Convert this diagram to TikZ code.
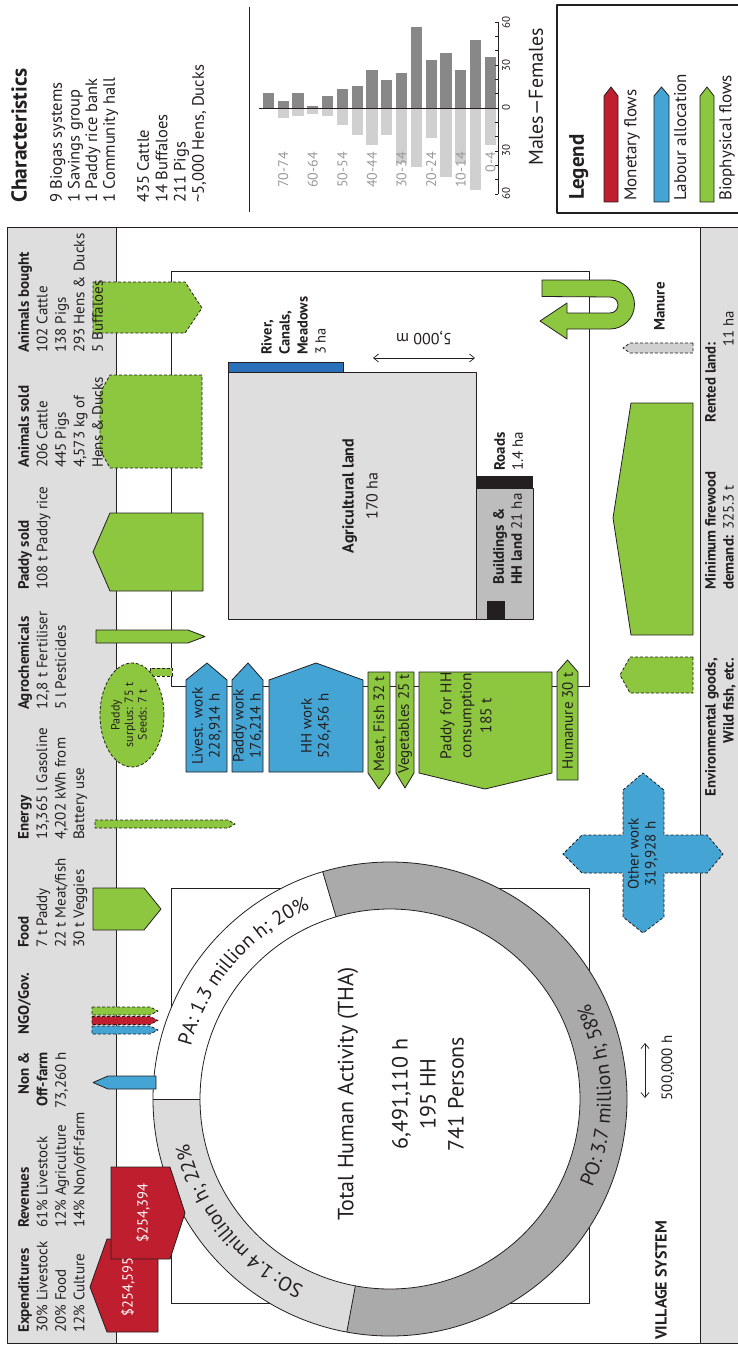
\documentclass[tikz,border=0pt]{standalone}
\usepackage{fontspec}
\setmainfont{PT Sans}
\usetikzlibrary{arrows.meta,decorations.text}
\definecolor{mred}{HTML}{BE1E2D}
\definecolor{mblue}{HTML}{44A5D5}
\definecolor{mgreen}{HTML}{8DC63F}
\definecolor{bandgray}{HTML}{DEDEDE}
\definecolor{rivblue}{HTML}{2B71B9}
\definecolor{agrigray}{HTML}{DEDEDE}
\definecolor{bldgray}{HTML}{BDBDBD}
\definecolor{sogray}{HTML}{DCDCDC}
\definecolor{pogray}{HTML}{AAAAAA}
\definecolor{malegray}{HTML}{888888}
\definecolor{femgray}{HTML}{D0D0D0}
\definecolor{linec}{HTML}{231F20}
\definecolor{labgray}{HTML}{999999}
\newcommand\fA{\fontsize{15}{18.5}\selectfont}
\newcommand\fB{\fontsize{15}{17}\selectfont}
\begin{document}
\begin{tikzpicture}[x=1pt,y=1pt,line join=round,
  bord/.style={draw=linec,line width=0.8pt},
  dsh/.style={draw=linec,line width=0.8pt,dash pattern=on 3pt off 2pt},
  rt/.style={rotate=90,inner sep=0pt,align=left,font=\fA,text=linec},
  ct/.style={rotate=90,inner sep=0pt,align=center,font=\fB,text=linec},
  dimarr/.style={linec,line width=0.7pt,{Straight Barb[length=5pt,width=8pt]}-{Straight Barb[length=5pt,width=8pt]}},
]
\useasboundingbox (0,0) rectangle (737,-1348);
\fill[white] (0,0) rectangle (737,-1348);

% ---------- top region ----------
\draw[linec,line width=1pt] (7,-228) -- (745,-228);
\draw[linec,line width=1pt] (249,-7) -- (249,-212);
\node[rt,anchor=north west,font=\fontsize{21.5}{22}\selectfont\bfseries] (charT) at (11,-203) {Characteristics};
\node[rt,anchor=north west,font=\fontsize{16.5}{17.6}\selectfont] (charA) at (50,-203) {9 Biogas systems\\1 Savings group\\1 Paddy rice bank\\1 Community hall};
\node[rt,anchor=north west,font=\fontsize{16.5}{18.3}\selectfont] (charB) at (137,-203) {435 Cattle\\14 Buffaloes\\211 Pigs\\\textasciitilde 5,000 Hens, Ducks};

% pyramid
\foreach \i/\m/\f in {1/93/108,2/101/118,3/93/116,4/106/114,5/96/116,6/89/125,7/86/135,8/70/145,9/80/135,10/73/163,11/27/167,12/60/138,13/53/177,14/70/163,15/40/190,16/57/145}{
  \pgfmathsetmacro\xl{262.7+14.8*(\i-1)}
  \fill[malegray] (\xl,-108) rectangle ({\xl+11.3},-\m);
  \fill[femgray] (\xl,-108) rectangle ({\xl+11.3},-\f);
}
\foreach \i/\t in {2/70-74,4/60-64,6/50-54,8/40-44,10/30-34,12/20-24,14/10-14,16/0-4}{
  \pgfmathsetmacro\xc{262.7+14.8*(\i-1)+5.65}
  \node[rotate=90,anchor=east,inner sep=0pt,text=labgray,font=\fontsize{14}{14}\selectfont] (age\i) at (\xc,-152) {\t};
}
\draw[linec,line width=0.9pt] (259,-108) -- (498,-108);
\draw[linec,line width=0.8pt] (498,-22) -- (498,-194);
\foreach \k in {-6,...,6}{\draw[linec,line width=0.6pt] (498,{-108+\k*14.33}) -- (494.5,{-108+\k*14.33});}
\foreach \k/\t in {-6/60,-3/30,0/0,3/30,6/60}{
  \node[rotate=90,inner sep=0pt,text=linec,font=\fontsize{11}{11}\selectfont] (ax\k) at (506,{-108+\k*14.33}) {\t};
}
\node[rotate=90,inner sep=0pt,text=linec,font=\fontsize{20}{20}\selectfont] (mf) at (536,-97) {Males—Females};

% legend
\draw[linec,line width=1.2pt] (557,-5) rectangle (745,-213);
\node[rt,anchor=north west,font=\fontsize{21}{21}\selectfont\bfseries] (legT) at (569,-200) {Legend};
\draw[bord,fill=mred] (604,-202) -- (604,-96) -- (611,-87) -- (618,-96) -- (618,-202) -- cycle;
\draw[bord,fill=mblue] (654,-202) -- (654,-96) -- (661.5,-87) -- (669,-96) -- (669,-202) -- cycle;
\draw[bord,fill=mgreen] (700,-202) -- (700,-96) -- (707,-87) -- (714,-96) -- (714,-202) -- cycle;
\node[rt,anchor=north west,font=\fontsize{17}{17}\selectfont] (legA) at (624,-201) {Monetary flows};
\node[rt,anchor=north west,font=\fontsize{17}{17}\selectfont] (legB) at (674,-201) {Labour allocation};
\node[rt,anchor=north west,font=\fontsize{17}{17}\selectfont] (legC) at (719,-201) {Biophysical flows};

% ---------- bands ----------
\draw[linec,line width=1pt,fill=bandgray] (7,-228) rectangle (116,-1343);
\draw[linec,line width=1pt,fill=bandgray] (700,-228) rectangle (745,-1343);
\draw[linec,line width=1pt] (116,-1343) -- (700,-1343);

% ---------- land frame ----------
\draw[bord,line width=1pt] (171,-271) rectangle (589,-686);
\draw[bord,fill=agrigray] (228,-372) rectangle (476,-619);
\draw[bord,fill=rivblue] (228,-362) rectangle (343,-372);
\draw[bord,fill=bldgray] (476,-488) rectangle (533,-619);
\fill[linec] (476,-476) rectangle (533,-488);
\fill[linec] (487,-601) rectangle (505,-619);
\draw[dimarr] (373,-358) -- (475,-358);
\node[rotate=180,inner sep=0pt,text=linec,font=\fontsize{16}{16}\selectfont] (dim5) at (424,-338) {5,000 m};
\node[ct,font=\fontsize{16}{24}\selectfont] (agri) at (360,-496) {\textbf{Agricultural land}\\170 ha};
\node[rt,anchor=north west,font=\fontsize{14.5}{18}\selectfont] (river) at (261,-355) {\textbf{River,}\\\textbf{Canals,}\\\textbf{Meadows}\\3 ha};
\node[rt,anchor=north west,font=\fontsize{15}{18}\selectfont] (roads) at (494,-471) {\textbf{Roads}\\1.4 ha};
\node[rt,anchor=north west,font=\fontsize{15}{18}\selectfont] (bld) at (493,-585) {\textbf{Buildings \&}\\\textbf{HH land} 21 ha};

% ---------- circle ----------
\draw[bord,line width=1pt,fill=white] (171,-888) rectangle (589,-1303);
\begin{scope}[shift={(390,-1099)}]
  \fill[white] (106.5:237) arc[start angle=106.5,end angle=180,radius=237] -- (180:190) arc[start angle=180,end angle=106.5,radius=190] -- cycle;
  \fill[sogray] (180:237) arc[start angle=180,end angle=259.5,radius=237] -- (259.5:190) arc[start angle=259.5,end angle=180,radius=190] -- cycle;
  \fill[pogray] (259.5:237) arc[start angle=259.5,end angle=466.5,radius=237] -- (466.5:190) arc[start angle=466.5,end angle=259.5,radius=190] -- cycle;
  \fill[white] (0,0) circle[radius=190];
  \draw[linec,line width=0.8pt] (0,0) circle[radius=237];
  \draw[linec,line width=0.8pt] (0,0) circle[radius=190];
  \draw[linec,line width=0.8pt] (106.5:190) -- (106.5:237);
  \draw[linec,line width=0.8pt] (180:190) -- (180:237);
  \draw[linec,line width=0.8pt] (259.5:190) -- (259.5:237);
  \path[decorate,decoration={text along path,text align=center,text color=linec,text={|\fontsize{20}{20}\selectfont|PA: 1.3 million h; 20{\%}}}] (172:206) arc[start angle=172,end angle=106,radius=206];
  \path[decorate,decoration={text along path,text align=center,text color=linec,text={|\fontsize{20}{20}\selectfont|SO: 1.4 million h; 22{\%}}}] (254:206) arc[start angle=254,end angle=184,radius=206];
  \path[decorate,decoration={text along path,text align=center,text color=linec,text={|\fontsize{20}{20}\selectfont|PO: 3.7 million h; 58{\%}}}] (-33:221) arc[start angle=-33,end angle=35,radius=221];
\end{scope}
\node[rotate=90,inner sep=0pt,text=linec,font=\fontsize{22}{22}\selectfont] (tha) at (348,-1094) {Total Human Activity (THA)};
\node[ct,font=\fontsize{22}{28}\selectfont] (thaN) at (428,-1094) {6,491,110 h\\195 HH\\741 Persons};

% ---------- left band arrows ----------
\draw[dsh,fill=mgreen] (93,-282) -- (185,-282) -- (202,-308) -- (185,-333) -- (93,-333) -- cycle;
\draw[dsh,fill=mgreen] (202,-375) -- (110,-375) -- (100,-393) -- (100,-450) -- (110,-468) -- (202,-468) -- cycle;
\draw[bord,fill=mgreen] (203,-513) -- (110,-513) -- (93,-552) -- (110,-591) -- (203,-591) -- cycle;
\draw[bord,fill=mgreen] (96,-630) -- (188,-630) -- (205,-636.5) -- (188,-643) -- (96,-643) -- cycle;
\draw[dsh,fill=mgreen] (150,-668) rectangle (172,-676);
\draw[dsh,fill=mgreen] (132,-715) ellipse[x radius=32,y radius=52];
\node[ct,font=\fontsize{12}{13.5}\selectfont] (surplus) at (129,-715) {Paddy\\surplus: 75 t\\Seeds: 7 t};
\draw[dsh,fill=mgreen] (95,-820) -- (228,-820) -- (235,-824) -- (228,-828) -- (95,-828) -- cycle;
\draw[bord,fill=mgreen] (93,-888) -- (144,-888) -- (161,-909) -- (144,-930) -- (93,-930) -- cycle;
\draw[dsh,fill=mgreen] (92,-1007) -- (150,-1007) -- (158,-1011) -- (150,-1015) -- (92,-1015) -- cycle;
\draw[dsh,fill=mred] (92,-1016.5) -- (150,-1016.5) -- (158,-1020.5) -- (150,-1024.5) -- (92,-1024.5) -- cycle;
\draw[dsh,fill=mblue] (92,-1026) -- (150,-1026) -- (158,-1030) -- (150,-1034) -- (92,-1034) -- cycle;
\draw[bord,fill=mblue] (156,-1076) -- (108,-1076) -- (93,-1082.5) -- (108,-1089) -- (156,-1089) -- cycle;
\draw[bord,fill=mred] (158,-1332) -- (107,-1332) -- (90,-1287) -- (107,-1239) -- (158,-1239) -- cycle;
\draw[bord,fill=mred] (111,-1167) -- (170,-1167) -- (185,-1213) -- (170,-1259) -- (111,-1259) -- cycle;
\node[rotate=90,inner sep=0pt,text=white,font=\fontsize{14.5}{14.5}\selectfont] (m1) at (128,-1287) {\$254,595};
\node[rotate=90,inner sep=0pt,text=white,font=\fontsize{14.5}{14.5}\selectfont] (m2) at (143,-1213) {\$254,394};

% ---------- left band headings ----------
\node[rt,anchor=north west] (hExp) at (18,-1333) {\textbf{Expenditures}\\30\% Livestock\\20\% Food\\12\% Culture};
\node[rt,anchor=north west] (hRev) at (18,-1228) {\textbf{Revenues}\\61\% Livestock\\12\% Agriculture\\14\% Non/off-farm};
\node[rt,anchor=north east,align=right] (hNon) at (18,-1052) {\textbf{Non \&}\\\textbf{Off-farm}\\73,260 h};
\node[rt,anchor=north west] (hNgo) at (18,-1035) {\textbf{NGO/Gov.}};
\node[rt,anchor=north west] (hFood) at (18,-948) {\textbf{Food}\\7 t Paddy\\22 t Meat/fish\\30 t Veggies};
\node[rt,anchor=north west] (hEn) at (18,-840) {\textbf{Energy}\\13,365 l Gasoline\\4,202 kWh from\\Battery use};
\node[rt,anchor=north west] (hAgro) at (18,-710) {\textbf{Agrochemicals}\\12,8 t Fertiliser\\5 l Pesticides};
\node[rt,anchor=north west] (hPad) at (18,-590) {\textbf{Paddy sold}\\108 t Paddy rice};
\node[rt,anchor=north west] (hAs) at (18,-468) {\textbf{Animals sold}\\206 Cattle\\445 Pigs\\4,573 kg of\\Hens \& Ducks};
\node[rt,anchor=north west] (hAb) at (18,-353) {\textbf{Animals bought}\\102 Cattle\\138 Pigs\\293 Hens \& Ducks\\5 Buffaloes};
\node[rt,anchor=north west,font=\fontsize{16}{16}\selectfont\bfseries] (vs) at (655,-1340) {VILLAGE SYSTEM};

% ---------- middle arrows ----------
\draw[bord,fill=mblue] (186,-772) -- (186,-680) -- (207,-663) -- (227,-680) -- (227,-772) -- cycle;
\draw[bord,fill=mblue] (232,-772) -- (232,-680) -- (248,-663) -- (263,-680) -- (263,-772) -- cycle;
\draw[bord,fill=mblue] (269,-772) -- (269,-680) -- (316,-663) -- (363,-680) -- (363,-772) -- cycle;
\draw[bord,fill=mgreen] (368,-672) -- (390,-672) -- (390,-773) -- (379,-789) -- (368,-773) -- cycle;
\draw[bord,fill=mgreen] (396,-672) -- (414,-672) -- (414,-773) -- (405,-788) -- (396,-773) -- cycle;
\draw[bord,fill=mgreen] (419,-672) -- (552,-672) -- (552,-773) -- (485,-789) -- (419,-773) -- cycle;
\draw[bord,fill=mgreen] (557,-780) -- (557,-672) -- (567.5,-660) -- (578,-672) -- (578,-780) -- cycle;
\node[ct] (lw) at (207,-726) {Livest. work\\228,914 h};
\node[ct] (pw) at (248,-726) {Paddy work\\176,214 h};
\node[ct] (hw) at (316,-726) {HH work\\526,456 h};
\node[ct] (mt) at (380,-724) {Meat, Fish 32 t};
\node[ct] (vg) at (405,-724) {Vegetables 25 t};
\node[ct,font=\fontsize{15.5}{20}\selectfont] (phh) at (466,-716) {Paddy for HH\\consumption\\185 t};
\node[ct] (hum) at (567.5,-721) {Humanure 30 t};

% other work cross
\draw[dsh,fill=mblue] (623,-790) -- (643,-773) -- (664,-790) -- (664,-835) -- (707,-835) -- (723,-854) -- (707,-873) -- (664,-873) -- (664,-917) -- (643,-933) -- (623,-917) -- (623,-873) -- (582,-873) -- (563,-854) -- (582,-835) -- (623,-835) -- cycle;
\node[ct] (ow) at (643,-854) {Other work\\319,928 h};

% ---------- right side ----------
\draw[bord,fill=mgreen] (542,-280) -- (610,-280) arc[start angle=90,end angle=-90,radius=24.5] -- (567,-329) -- (567,-339) -- (540,-321) -- (567,-303) -- (567,-313) -- (610,-313) arc[start angle=-90,end angle=90,radius=8] -- (542,-296.5) -- cycle;
\node[rt,anchor=north west,font=\fontsize{15}{15}\selectfont\bfseries] (man) at (654,-331) {Manure};
\draw[dsh,fill=femgray] (693,-343) -- (630,-343) -- (623,-348) -- (630,-353) -- (693,-353) -- cycle;
\draw[bord,fill=mgreen] (693,-403) -- (631,-403) -- (613,-518) -- (631,-635) -- (693,-635) -- cycle;
\draw[dsh,fill=mgreen] (693,-657) -- (630,-657) -- (620,-675) -- (630,-693) -- (693,-693) -- cycle;
\node[rt,anchor=north east,font=\fontsize{14.8}{18}\selectfont\bfseries] (rent) at (705,-342) {Rented land:};
\node[rt,anchor=north west,font=\fontsize{14.8}{18}\selectfont] (rent2) at (723,-347) {11 ha};
\node[rt,anchor=north west,font=\fontsize{14.8}{18}\selectfont] (fw) at (705,-590) {\textbf{Minimum firewood}\\\textbf{demand:} 325.3 t};
\node[rt,anchor=north east,align=right,font=\fontsize{14.8}{18}\selectfont\bfseries] (env) at (705,-658) {Environmental goods,\\Wild fish, etc.};

% scale
\draw[dimarr] (645,-1043) -- (645,-1098);
\node[rotate=90,inner sep=0pt,text=linec,font=\fontsize{15}{15}\selectfont] (sc) at (668,-1068) {500,000 h};
\end{tikzpicture}
\end{document}
